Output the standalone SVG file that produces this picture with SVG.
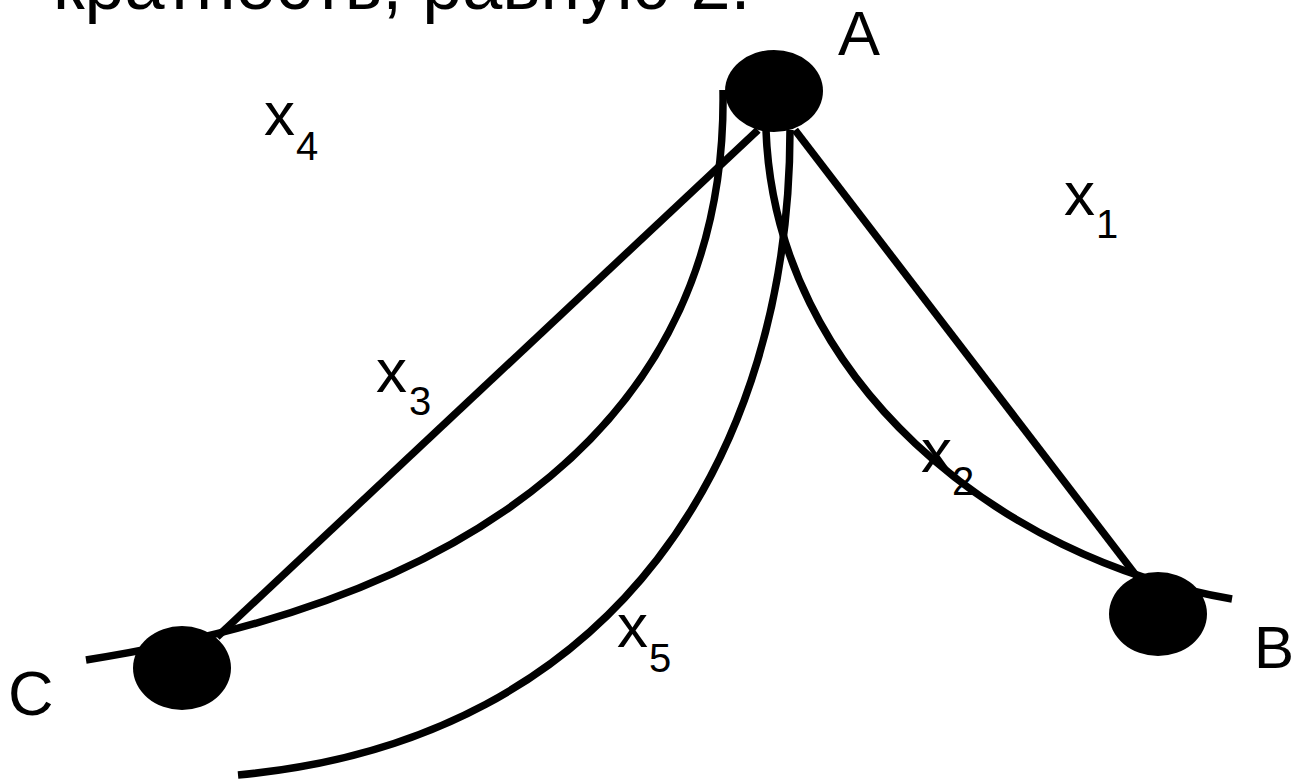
<svg xmlns="http://www.w3.org/2000/svg" width="1295" height="781" viewBox="0 0 1295 781">
<style>
.t{font-family:"Liberation Sans",Arial,sans-serif;fill:#000}
.e{fill:none;stroke:#000;stroke-width:7.5}
.n{fill:#000}
</style>
<rect width="1295" height="781" fill="#fff"/>
<text class="t" x="53" y="9" font-size="72">кратность, равную 2.</text>
<g id="connectors">
<path class="e" d="M795 130 L1138 578"/>
<path class="e" d="M758 130 L217 637"/>
<path class="e" d="M723 90 C728 420 470 600 86 660"/>
<path class="e" d="M766 130 C775 380 1000 560 1232 599"/>
<path class="e" d="M790 130 C790 450 620 740 238 775"/>
</g>
<g id="node-A"><ellipse class="n" cx="774" cy="91" rx="49" ry="41"/><text class="t" x="838" y="55" font-size="63">A</text></g>
<g id="node-B"><ellipse class="n" cx="1158" cy="614" rx="49" ry="42"/><text class="t" x="1254" y="668" font-size="60">B</text></g>
<g id="node-C"><ellipse class="n" cx="182" cy="668" rx="49" ry="42"/><text class="t" x="8" y="715" font-size="63">C</text></g>
<g id="labels">
<text class="t" x="264" y="135" font-size="62">x</text><text class="t" x="296" y="160" font-size="40">4</text>
<text class="t" x="1064" y="215" font-size="62">x</text><text class="t" x="1096" y="238" font-size="40">1</text>
<text class="t" x="376" y="392" font-size="62">x</text><text class="t" x="409" y="415" font-size="40">3</text>
<text class="t" x="921" y="472" font-size="62">x</text><text class="t" x="952" y="495" font-size="40">2</text>
<text class="t" x="617" y="647" font-size="62">x</text><text class="t" x="649" y="672" font-size="40">5</text>
</g>
</svg>
